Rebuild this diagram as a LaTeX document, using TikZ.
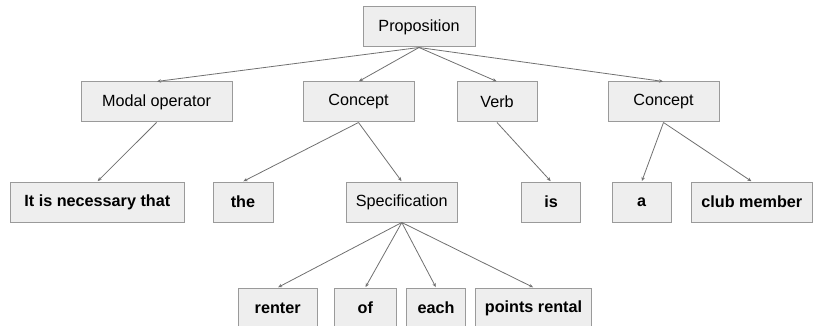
\documentclass[tikz,border=0pt]{standalone}
\usepackage{fontspec}
\setmainfont{Liberation Sans}
\usetikzlibrary{arrows.meta}
\definecolor{boxfill}{HTML}{EEEEEE}
\definecolor{boxline}{HTML}{9A9A9A}
\definecolor{edgecol}{HTML}{707070}
\tikzset{
  box/.style={draw=boxline, fill=boxfill, line width=1pt, rectangle, inner sep=0pt,
    minimum height=40pt, font=\fontsize{16.2}{19}\selectfont, text=black},
  word/.style={box, font=\fontsize{16.2}{19}\selectfont\bfseries},
  edge/.style={draw=edgecol, line width=0.8pt, -{Stealth[length=4pt,width=3.5pt]}, shorten >=0.5pt}
}
\begin{document}
\begin{tikzpicture}[x=1pt,y=-1pt]
\useasboundingbox (0,0) rectangle (813,326);
\clip (0,0) rectangle (813,326);
\node[box, minimum width=112pt] (prop) at (419,27) {Proposition};
\node[box, minimum width=151pt] (modal) at (156.5,102) {Modal operator};
\node[box, minimum width=111pt] (conc1) at (358.5,102) {Concept};
\node[box, minimum width=80pt] (verb) at (497,102) {Verb};
\node[box, minimum width=111pt] (conc2) at (663.5,102) {Concept};
\node[word, minimum width=174pt] (nec) at (97.3,202) {It is necessary that};
\node[word, minimum width=60pt] (the) at (243,202) {the};
\node[box, minimum width=111pt] (spec) at (401.8,202) {Specification};
\node[word, minimum width=59.4pt] (is) at (551,202) {is};
\node[word, minimum width=58.7pt] (a) at (641.7,202) {a};
\node[word, minimum width=121pt] (club) at (751.8,202) {club member};
\node[word, minimum width=79.3pt] (renter) at (277.7,308) {renter};
\node[word, minimum width=62pt] (of) at (365.3,308) {of};
\node[word, minimum width=58.6pt] (each) at (436,308) {each};
\node[word, minimum width=116.4pt] (points) at (533.5,308) {points rental};
\draw[edge] (prop.south) -- (modal.north);
\draw[edge] (prop.south) -- (conc1.north);
\draw[edge] (prop.south) -- (verb.north);
\draw[edge] (prop.south) -- (conc2.north);
\draw[edge] (modal.south) -- (nec.north);
\draw[edge] (conc1.south) -- (the.north);
\draw[edge] (conc1.south) -- (spec.north);
\draw[edge] (verb.south) -- (is.north);
\draw[edge] (conc2.south) -- (a.north);
\draw[edge] (conc2.south) -- (club.north);
\draw[edge] (spec.south) -- (renter.north);
\draw[edge] (spec.south) -- (of.north);
\draw[edge] (spec.south) -- (each.north);
\draw[edge] (spec.south) -- (points.north);
\end{tikzpicture}
\end{document}
